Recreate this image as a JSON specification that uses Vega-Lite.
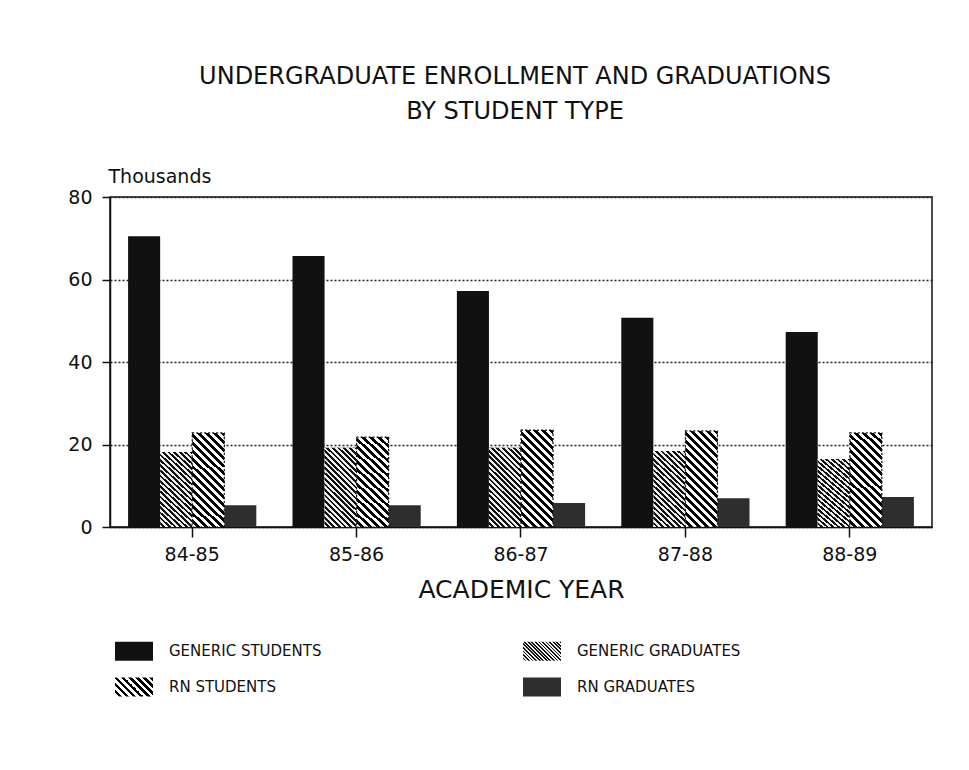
{
  "$schema": "https://vega.github.io/schema/vega-lite/v6.json",
  "width": 822,
  "height": 330,
  "autosize": {"type": "none"},
  "padding": {"left": 110, "top": 197, "right": 37, "bottom": 243},
  "background": "white",
  "title": {
    "text": ["UNDERGRADUATE ENROLLMENT AND GRADUATIONS", "BY STUDENT TYPE"],
    "font": "DejaVu Sans",
    "fontSize": 24,
    "fontWeight": "normal",
    "color": "#111",
    "lineHeight": 35,
    "anchor": "middle",
    "frame": "group",
    "dx": -6,
    "offset": 43
  },
  "data": {
    "values": [
      {"year": "84-85", "type": "GENERIC STUDENTS", "value": 70.5},
      {"year": "84-85", "type": "GENERIC GRADUATES", "value": 18.2},
      {"year": "84-85", "type": "RN STUDENTS", "value": 22.8},
      {"year": "84-85", "type": "RN GRADUATES", "value": 5.3},
      {"year": "85-86", "type": "GENERIC STUDENTS", "value": 65.7},
      {"year": "85-86", "type": "GENERIC GRADUATES", "value": 19.2},
      {"year": "85-86", "type": "RN STUDENTS", "value": 21.8},
      {"year": "85-86", "type": "RN GRADUATES", "value": 5.3},
      {"year": "86-87", "type": "GENERIC STUDENTS", "value": 57.2},
      {"year": "86-87", "type": "GENERIC GRADUATES", "value": 19.2},
      {"year": "86-87", "type": "RN STUDENTS", "value": 23.5},
      {"year": "86-87", "type": "RN GRADUATES", "value": 5.8},
      {"year": "87-88", "type": "GENERIC STUDENTS", "value": 50.7},
      {"year": "87-88", "type": "GENERIC GRADUATES", "value": 18.4},
      {"year": "87-88", "type": "RN STUDENTS", "value": 23.3},
      {"year": "87-88", "type": "RN GRADUATES", "value": 7.0},
      {"year": "88-89", "type": "GENERIC STUDENTS", "value": 47.3},
      {"year": "88-89", "type": "GENERIC GRADUATES", "value": 16.5},
      {"year": "88-89", "type": "RN STUDENTS", "value": 22.8},
      {"year": "88-89", "type": "RN GRADUATES", "value": 7.3}
    ]
  },
  "encoding": {
    "x": {
      "field": "year",
      "type": "nominal",
      "scale": {"paddingInner": 0.22, "paddingOuter": 0.11},
      "axis": {
        "title": "ACADEMIC YEAR",
        "labelAngle": 0,
        "labelFont": "DejaVu Sans",
        "labelFontSize": 19,
        "labelColor": "#111",
        "labelPadding": 8,
        "tickSize": 10,
        "tickColor": "#111",
        "tickWidth": 1.5,
        "domainColor": "#111",
        "domainWidth": 1.5,
        "titleFont": "DejaVu Sans",
        "titleFontSize": 25,
        "titleFontWeight": "normal",
        "titleColor": "#111",
        "titlePadding": 13
      }
    },
    "xOffset": {
      "field": "type",
      "type": "nominal",
      "scale": {"domain": ["GENERIC STUDENTS", "GENERIC GRADUATES", "RN STUDENTS", "RN GRADUATES"], "paddingInner": 0, "paddingOuter": 0}
    },
    "y": {
      "field": "value",
      "type": "quantitative",
      "scale": {"domain": [0, 80], "nice": false},
      "axis": {
        "values": [0, 20, 40, 60, 80],
        "title": "Thousands",
        "titleAngle": 0,
        "titleAlign": "left",
        "titleBaseline": "alphabetic",
        "titleX": -2,
        "titleY": -15,
        "titleFont": "DejaVu Sans",
        "titleFontSize": 19,
        "titleFontWeight": "normal",
        "titleColor": "#111",
        "labelFont": "DejaVu Sans",
        "labelFontSize": 19,
        "labelColor": "#111",
        "labelPadding": 10,
        "tickSize": 8,
        "tickColor": "#111",
        "tickWidth": 1.5,
        "domainColor": "#111",
        "domainWidth": 1.5,
        "grid": true,
        "gridColor": "#222",
        "gridDash": [2, 2],
        "gridWidth": 1.3
      }
    }
  },
  "layer": [
    {
      "mark": {"type": "bar", "strokeWidth": 0},
      "encoding": {
        "color": {
          "field": "type",
          "type": "nominal",
          "scale": {
            "domain": ["GENERIC STUDENTS", "GENERIC GRADUATES", "RN STUDENTS", "RN GRADUATES"],
            "range": [
              "#111111",
              {"expr": "{gradient:'linear',x1:1,y1:0,x2:-0.2,y2:0.6,stops:[{offset:0,color:'#111'},{offset:0.03125,color:'#111'},{offset:0.03125,color:'#eee'},{offset:0.0625,color:'#eee'},{offset:0.0625,color:'#111'},{offset:0.09375,color:'#111'},{offset:0.09375,color:'#eee'},{offset:0.125,color:'#eee'},{offset:0.125,color:'#111'},{offset:0.15625,color:'#111'},{offset:0.15625,color:'#eee'},{offset:0.1875,color:'#eee'},{offset:0.1875,color:'#111'},{offset:0.21875,color:'#111'},{offset:0.21875,color:'#eee'},{offset:0.25,color:'#eee'},{offset:0.25,color:'#111'},{offset:0.28125,color:'#111'},{offset:0.28125,color:'#eee'},{offset:0.3125,color:'#eee'},{offset:0.3125,color:'#111'},{offset:0.34375,color:'#111'},{offset:0.34375,color:'#eee'},{offset:0.375,color:'#eee'},{offset:0.375,color:'#111'},{offset:0.40625,color:'#111'},{offset:0.40625,color:'#eee'},{offset:0.4375,color:'#eee'},{offset:0.4375,color:'#111'},{offset:0.46875,color:'#111'},{offset:0.46875,color:'#eee'},{offset:0.5,color:'#eee'},{offset:0.5,color:'#111'},{offset:0.53125,color:'#111'},{offset:0.53125,color:'#eee'},{offset:0.5625,color:'#eee'},{offset:0.5625,color:'#111'},{offset:0.59375,color:'#111'},{offset:0.59375,color:'#eee'},{offset:0.625,color:'#eee'},{offset:0.625,color:'#111'},{offset:0.65625,color:'#111'},{offset:0.65625,color:'#eee'},{offset:0.6875,color:'#eee'},{offset:0.6875,color:'#111'},{offset:0.71875,color:'#111'},{offset:0.71875,color:'#eee'},{offset:0.75,color:'#eee'},{offset:0.75,color:'#111'},{offset:0.78125,color:'#111'},{offset:0.78125,color:'#eee'},{offset:0.8125,color:'#eee'},{offset:0.8125,color:'#111'},{offset:0.84375,color:'#111'},{offset:0.84375,color:'#eee'},{offset:0.875,color:'#eee'},{offset:0.875,color:'#111'},{offset:0.90625,color:'#111'},{offset:0.90625,color:'#eee'},{offset:0.9375,color:'#eee'},{offset:0.9375,color:'#111'},{offset:0.96875,color:'#111'},{offset:0.96875,color:'#eee'},{offset:1,color:'#eee'}]}"},
              {"expr": "{gradient:'linear',x1:1,y1:0,x2:-0.2,y2:0.6,stops:[{offset:0,color:'#000'},{offset:0.0625,color:'#000'},{offset:0.0625,color:'#fff'},{offset:0.125,color:'#fff'},{offset:0.125,color:'#000'},{offset:0.1875,color:'#000'},{offset:0.1875,color:'#fff'},{offset:0.25,color:'#fff'},{offset:0.25,color:'#000'},{offset:0.3125,color:'#000'},{offset:0.3125,color:'#fff'},{offset:0.375,color:'#fff'},{offset:0.375,color:'#000'},{offset:0.4375,color:'#000'},{offset:0.4375,color:'#fff'},{offset:0.5,color:'#fff'},{offset:0.5,color:'#000'},{offset:0.5625,color:'#000'},{offset:0.5625,color:'#fff'},{offset:0.625,color:'#fff'},{offset:0.625,color:'#000'},{offset:0.6875,color:'#000'},{offset:0.6875,color:'#fff'},{offset:0.75,color:'#fff'},{offset:0.75,color:'#000'},{offset:0.8125,color:'#000'},{offset:0.8125,color:'#fff'},{offset:0.875,color:'#fff'},{offset:0.875,color:'#000'},{offset:0.9375,color:'#000'},{offset:0.9375,color:'#fff'},{offset:1,color:'#fff'}]}"},
              "#2e2e2e"
            ]
          },
          "legend": {
            "title": null,
            "orient": "none",
            "legendX": 5,
            "legendY": 435,
            "direction": "horizontal",
            "columns": 2,
            "columnPadding": 201,
            "rowPadding": 7,
            "symbolType": "M-1,-0.5H1V0.5H-1Z",
            "symbolSize": 1444,
            "symbolStrokeWidth": 0,
            "symbolOpacity": 1,
            "labelFont": "DejaVu Sans",
            "labelFontSize": 15,
            "labelColor": "#111",
            "labelOffset": 16,
            "labelLimit": 300
          }
        }
      }
    },
    {
      "transform": [{"filter": "datum.type === 'GENERIC GRADUATES'"}],
      "mark": {"type": "bar", "strokeWidth": 0, "fill": {"gradient": "linear", "x1": 1, "y1": 0, "x2": 0.517, "y2": 1.207, "stops": [
        {"offset": 0, "color": "#111"}, {"offset": 0.025, "color": "#111"}, {"offset": 0.025, "color": "#eee"}, {"offset": 0.05, "color": "#eee"},
        {"offset": 0.05, "color": "#111"}, {"offset": 0.075, "color": "#111"}, {"offset": 0.075, "color": "#eee"}, {"offset": 0.1, "color": "#eee"},
        {"offset": 0.1, "color": "#111"}, {"offset": 0.125, "color": "#111"}, {"offset": 0.125, "color": "#eee"}, {"offset": 0.15, "color": "#eee"},
        {"offset": 0.15, "color": "#111"}, {"offset": 0.175, "color": "#111"}, {"offset": 0.175, "color": "#eee"}, {"offset": 0.2, "color": "#eee"},
        {"offset": 0.2, "color": "#111"}, {"offset": 0.225, "color": "#111"}, {"offset": 0.225, "color": "#eee"}, {"offset": 0.25, "color": "#eee"},
        {"offset": 0.25, "color": "#111"}, {"offset": 0.275, "color": "#111"}, {"offset": 0.275, "color": "#eee"}, {"offset": 0.3, "color": "#eee"},
        {"offset": 0.3, "color": "#111"}, {"offset": 0.325, "color": "#111"}, {"offset": 0.325, "color": "#eee"}, {"offset": 0.35, "color": "#eee"},
        {"offset": 0.35, "color": "#111"}, {"offset": 0.375, "color": "#111"}, {"offset": 0.375, "color": "#eee"}, {"offset": 0.4, "color": "#eee"},
        {"offset": 0.4, "color": "#111"}, {"offset": 0.425, "color": "#111"}, {"offset": 0.425, "color": "#eee"}, {"offset": 0.45, "color": "#eee"},
        {"offset": 0.45, "color": "#111"}, {"offset": 0.475, "color": "#111"}, {"offset": 0.475, "color": "#eee"}, {"offset": 0.5, "color": "#eee"},
        {"offset": 0.5, "color": "#111"}, {"offset": 0.525, "color": "#111"}, {"offset": 0.525, "color": "#eee"}, {"offset": 0.55, "color": "#eee"},
        {"offset": 0.55, "color": "#111"}, {"offset": 0.575, "color": "#111"}, {"offset": 0.575, "color": "#eee"}, {"offset": 0.6, "color": "#eee"},
        {"offset": 0.6, "color": "#111"}, {"offset": 0.625, "color": "#111"}, {"offset": 0.625, "color": "#eee"}, {"offset": 0.65, "color": "#eee"},
        {"offset": 0.65, "color": "#111"}, {"offset": 0.675, "color": "#111"}, {"offset": 0.675, "color": "#eee"}, {"offset": 0.7, "color": "#eee"},
        {"offset": 0.7, "color": "#111"}, {"offset": 0.725, "color": "#111"}, {"offset": 0.725, "color": "#eee"}, {"offset": 0.75, "color": "#eee"},
        {"offset": 0.75, "color": "#111"}, {"offset": 0.775, "color": "#111"}, {"offset": 0.775, "color": "#eee"}, {"offset": 0.8, "color": "#eee"},
        {"offset": 0.8, "color": "#111"}, {"offset": 0.825, "color": "#111"}, {"offset": 0.825, "color": "#eee"}, {"offset": 0.85, "color": "#eee"},
        {"offset": 0.85, "color": "#111"}, {"offset": 0.875, "color": "#111"}, {"offset": 0.875, "color": "#eee"}, {"offset": 0.9, "color": "#eee"},
        {"offset": 0.9, "color": "#111"}, {"offset": 0.925, "color": "#111"}, {"offset": 0.925, "color": "#eee"}, {"offset": 0.95, "color": "#eee"},
        {"offset": 0.95, "color": "#111"}, {"offset": 0.975, "color": "#111"}, {"offset": 0.975, "color": "#eee"}, {"offset": 1, "color": "#eee"}
      ]}}
    },
    {
      "transform": [{"filter": "datum.type === 'RN STUDENTS'"}],
      "mark": {"type": "bar", "stroke": "#111", "strokeWidth": 1.2, "strokeDash": [2, 2], "fill": {"gradient": "linear", "x1": 1, "y1": 0, "x2": 0.6, "y2": 1.2, "stops": [
        {"offset": 0, "color": "#000"}, {"offset": 0.0313, "color": "#000"}, {"offset": 0.0313, "color": "#fff"}, {"offset": 0.0625, "color": "#fff"},
        {"offset": 0.0625, "color": "#000"}, {"offset": 0.0938, "color": "#000"}, {"offset": 0.0938, "color": "#fff"}, {"offset": 0.125, "color": "#fff"},
        {"offset": 0.125, "color": "#000"}, {"offset": 0.1563, "color": "#000"}, {"offset": 0.1563, "color": "#fff"}, {"offset": 0.1875, "color": "#fff"},
        {"offset": 0.1875, "color": "#000"}, {"offset": 0.2188, "color": "#000"}, {"offset": 0.2188, "color": "#fff"}, {"offset": 0.25, "color": "#fff"},
        {"offset": 0.25, "color": "#000"}, {"offset": 0.2813, "color": "#000"}, {"offset": 0.2813, "color": "#fff"}, {"offset": 0.3125, "color": "#fff"},
        {"offset": 0.3125, "color": "#000"}, {"offset": 0.3438, "color": "#000"}, {"offset": 0.3438, "color": "#fff"}, {"offset": 0.375, "color": "#fff"},
        {"offset": 0.375, "color": "#000"}, {"offset": 0.4063, "color": "#000"}, {"offset": 0.4063, "color": "#fff"}, {"offset": 0.4375, "color": "#fff"},
        {"offset": 0.4375, "color": "#000"}, {"offset": 0.4688, "color": "#000"}, {"offset": 0.4688, "color": "#fff"}, {"offset": 0.5, "color": "#fff"},
        {"offset": 0.5, "color": "#000"}, {"offset": 0.5313, "color": "#000"}, {"offset": 0.5313, "color": "#fff"}, {"offset": 0.5625, "color": "#fff"},
        {"offset": 0.5625, "color": "#000"}, {"offset": 0.5938, "color": "#000"}, {"offset": 0.5938, "color": "#fff"}, {"offset": 0.625, "color": "#fff"},
        {"offset": 0.625, "color": "#000"}, {"offset": 0.6563, "color": "#000"}, {"offset": 0.6563, "color": "#fff"}, {"offset": 0.6875, "color": "#fff"},
        {"offset": 0.6875, "color": "#000"}, {"offset": 0.7188, "color": "#000"}, {"offset": 0.7188, "color": "#fff"}, {"offset": 0.75, "color": "#fff"},
        {"offset": 0.75, "color": "#000"}, {"offset": 0.7813, "color": "#000"}, {"offset": 0.7813, "color": "#fff"}, {"offset": 0.8125, "color": "#fff"},
        {"offset": 0.8125, "color": "#000"}, {"offset": 0.8438, "color": "#000"}, {"offset": 0.8438, "color": "#fff"}, {"offset": 0.875, "color": "#fff"},
        {"offset": 0.875, "color": "#000"}, {"offset": 0.9063, "color": "#000"}, {"offset": 0.9063, "color": "#fff"}, {"offset": 0.9375, "color": "#fff"},
        {"offset": 0.9375, "color": "#000"}, {"offset": 0.9688, "color": "#000"}, {"offset": 0.9688, "color": "#fff"}, {"offset": 1, "color": "#fff"}
      ]}}
    }
  ],
  "config": {
    "view": {"stroke": "#111", "strokeWidth": 1.5}
  }
}
